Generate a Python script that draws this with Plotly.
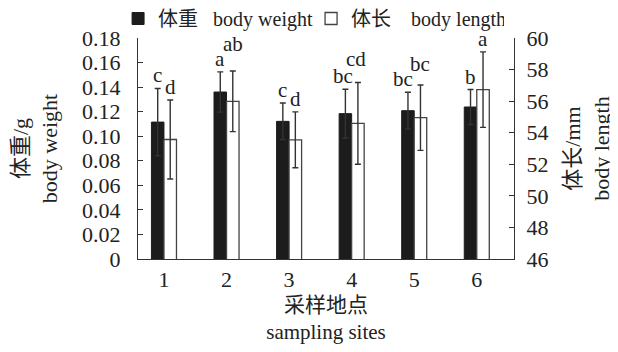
import plotly.graph_objects as go

sites = [1, 2, 3, 4, 5, 6]
site_labels = ["1", "2", "3", "4", "5", "6"]
weight = [0.1115, 0.136, 0.1121, 0.1184, 0.1208, 0.1238]
weight_err = [0.0274, 0.0164, 0.0149, 0.0199, 0.0150, 0.0142]
weight_letters = ["c", "a", "c", "bc", "bc", "b"]
length = [53.57, 55.99, 53.55, 54.59, 54.95, 56.73]
length_err = [2.5, 1.92, 1.77, 2.59, 2.07, 2.39]
length_letters = ["d", "ab", "d", "cd", "bc", "a"]
left_ticks = [0, 0.02, 0.04, 0.06, 0.08, 0.10, 0.12, 0.14, 0.16, 0.18]
left_tick_text = ["0", "0.02", "0.04", "0.06", "0.08", "0.10", "0.12", "0.14", "0.16", "0.18"]
right_ticks = [46, 48, 50, 52, 54, 56, 58, 60]

# label nudges (pixels) used only to keep letters from colliding
weight_label_dx = [0, 0, 0, -2, -5, 0]
weight_label_dy = [0, 0, 0, 0, 0, 0]
length_label_dx = [0, 0, 0, -2, 0, 0]
length_label_dy = [0, 14, 0, 11, 8, 0]

FONT = "Liberation Serif, 'Noto Sans CJK SC', serif"
SERIF = "Liberation Serif"
INK = "#222222"
BW = 0.2

fig = go.Figure()
fig.add_trace(go.Bar(
    x=sites, y=weight, width=BW, offset=-BW, name="体重\u00a0\u00a0\u00a0body weight",
    marker=dict(color="#1c1c1c", line=dict(color="#1c1c1c", width=1)),
    error_y=dict(type="data", array=weight_err, color="#333333", thickness=1.4, width=3),
    yaxis="y"))
fig.add_trace(go.Bar(
    x=sites, y=length, width=BW, offset=0, name="体长\u00a0\u00a0\u00a0\u00a0body length",
    marker=dict(color="white", line=dict(color="#444444", width=1.3)),
    error_y=dict(type="data", array=length_err, color="#333333", thickness=1.4, width=3),
    yaxis="y2"))

annotations = []
for s, w, e, t, dx, dy in zip(sites, weight, weight_err, weight_letters, weight_label_dx, weight_label_dy):
    annotations.append(dict(x=s - BW / 2, y=w + e, xref="x", yref="y", text=t, showarrow=False,
                            xanchor="center", yanchor="bottom", xshift=dx, yshift=dy, borderpad=0,
                            font=dict(size=21, color=INK, family=SERIF)))
for s, l, e, t, dx, dy in zip(sites, length, length_err, length_letters, length_label_dx, length_label_dy):
    annotations.append(dict(x=s + BW / 2, y=l + e, xref="x", yref="y2", text=t, showarrow=False,
                            xanchor="center", yanchor="bottom", xshift=dx, yshift=dy, borderpad=0,
                            font=dict(size=21, color=INK, family=SERIF)))

# page body has an 8px default margin, so the figure is sized 8px smaller
fig.update_layout(
    width=610, height=344,
    margin=dict(l=130, r=104, t=30, b=93, autoexpand=False),
    paper_bgcolor="white", plot_bgcolor="white",
    font=dict(family=FONT, size=22, color=INK),
    barmode="overlay",
    showlegend=True,
    annotations=annotations,
    legend=dict(orientation="h", x=-0.053, xanchor="left", y=1.0, yanchor="bottom",
                font=dict(size=20, family=FONT, color=INK), bgcolor="rgba(0,0,0,0)",
                itemwidth=30, tracegroupgap=0, entrywidth=148, entrywidthmode="pixels"),
    xaxis=dict(range=[0.585, 6.595], tickvals=sites, ticktext=site_labels,
               showline=True, linecolor="#333333", linewidth=1.2, ticks="",
               showgrid=False, zeroline=False,
               title=dict(text="采样地点<br>sampling sites", font=dict(size=21), standoff=6)),
    yaxis=dict(range=[0, 0.18], tickvals=left_ticks, ticktext=left_tick_text,
               showline=True, linecolor="#333333", linewidth=1.2, ticks="inside",
               ticklen=5, tickcolor="#333333", showgrid=False, zeroline=False,
               ticklabelstandoff=12,
               title=dict(text="体重/g<br>body weight", font=dict(size=22), standoff=26)),
    yaxis2=dict(range=[46, 60], tickvals=right_ticks, overlaying="y", side="right",
                showline=True, linecolor="#333333", linewidth=1.2, ticks="inside",
                ticklen=5, tickcolor="#333333", showgrid=False, zeroline=False,
                ticklabelstandoff=7,
                title=dict(text="体长/mm<br>body length", font=dict(size=22), standoff=17)),
)

fig.write_html("out.html")
